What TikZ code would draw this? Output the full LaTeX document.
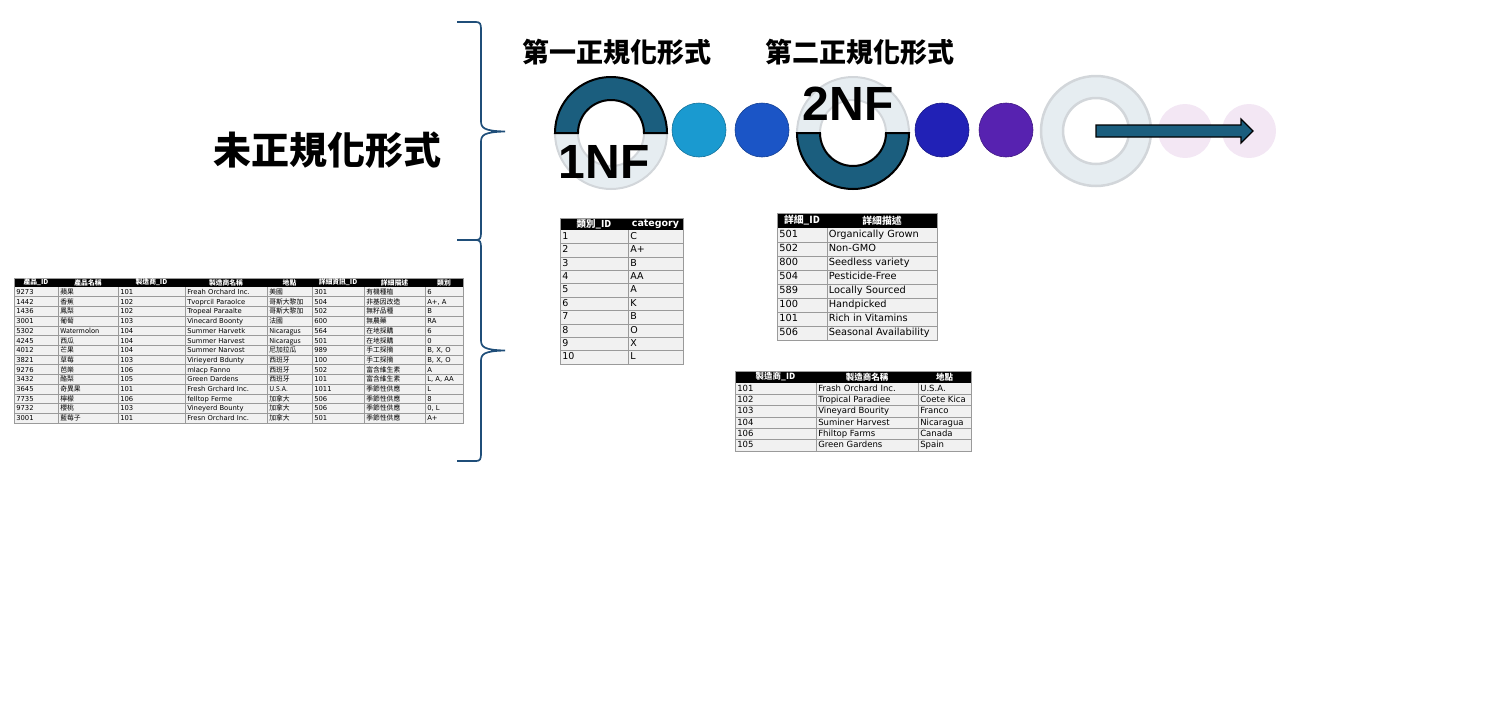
\documentclass[tikz,border=0pt]{standalone}
\usepackage{fontspec}
\setmainfont{DejaVu Sans}
\newfontfamily\cjk{Noto Sans CJK TC}
\newfontfamily\nffont{Liberation Sans}
\usetikzlibrary{calc}

\definecolor{nfteal}{HTML}{1B5E7E}
\definecolor{ringgray}{HTML}{E6EDF1}
\definecolor{ringline}{HTML}{D2D6DA}
\definecolor{braceblue}{HTML}{1F4E79}
\definecolor{dotA}{HTML}{1A9AD0}
\definecolor{dotB}{HTML}{1B55C6}
\definecolor{dotC}{HTML}{2121B6}
\definecolor{dotD}{HTML}{5722B0}
\definecolor{dotE}{HTML}{F3E7F4}
\definecolor{rowgray}{HTML}{F1F1F1}
\definecolor{gridgray}{HTML}{9A9A9A}

\begin{document}
\begin{tikzpicture}[x=1pt, y=-1pt, semithick,
  curly/.style={draw=braceblue, line width=1.7pt},
  bigtitle/.style={font=\cjk\bfseries\fontsize{38}{40}\selectfont},
  nftitle/.style={font=\cjk\bfseries\fontsize{27}{30}\selectfont},
  nflabel/.style={font=\nffont\bfseries\fontsize{48}{50}\selectfont, inner sep=0pt},
  nfdot/.style={circle, minimum size=54pt, inner sep=0pt, line width=0.6pt},
  tabgrid/.style={draw=gridgray, line width=0.5pt},
  tabhead/.style={text=white, inner sep=0pt, font=\cjk\bfseries\fontsize{#1}{#1}\selectfont},
  tabcell/.style={anchor=west, inner sep=2pt, text height=0.72em, text depth=0.2em, font=\fontsize{#1}{#1}\selectfont},
  tabcjk/.style={tabcell=#1, font=\cjk\fontsize{#1}{#1}\selectfont}]

  \useasboundingbox (0,0) rectangle (1488,715);

  % braces
  \draw[curly] (457,22) -- (476,22) .. controls (480,22) and (481,24) .. (481,29) -- (481,121)
    .. controls (481,128) and (484,131) .. (505,131.5) .. controls (484,132) and (481,135) .. (481,142)
    -- (481,233) .. controls (481,238) and (480,240) .. (476,240) -- (457,240);
  \draw[curly] (457,240) -- (476,240) .. controls (480,240) and (481,242) .. (481,247) -- (481,340)
    .. controls (481,347) and (484,350) .. (505,350.5) .. controls (484,351) and (481,354) .. (481,361)
    -- (481,454) .. controls (481,459) and (480,461) .. (476,461) -- (457,461);

  \node[bigtitle] (unnorm) at (327,150) {未正規化形式};
  \node[nftitle] (first) at (617,52) {第一正規化形式};
  \node[nftitle] (second) at (860,52) {第二正規化形式};

  % 1NF ring
  \coordinate (ring1) at (611,133);
  \filldraw[ringgray, draw=ringline, line width=2pt, even odd rule] (ring1) circle[radius=56] (ring1) circle[radius=33];
  \filldraw[nfteal, draw=black, line width=2pt] ($(ring1)+(56,0)$) arc[start angle=0, end angle=-180, radius=56]
    -- ($(ring1)+(-33,0)$) arc[start angle=180, end angle=360, radius=33] -- cycle;
  \node[nflabel] (nf1) at (604,162) {1NF};

  \node[nfdot, fill=dotA, draw=dotA!75!black] (dot1) at (699,130) {};
  \node[nfdot, fill=dotB, draw=dotB!75!black] (dot2) at (762,130) {};

  % 2NF ring
  \coordinate (ring2) at (853,133);
  \filldraw[ringgray, draw=ringline, line width=2pt, even odd rule] (ring2) circle[radius=56] (ring2) circle[radius=33];
  \filldraw[nfteal, draw=black, line width=2pt] ($(ring2)+(56,0)$) arc[start angle=0, end angle=180, radius=56]
    -- ($(ring2)+(-33,0)$) arc[start angle=180, end angle=0, radius=33] -- cycle;
  \node[nflabel] (nf2) at (848,104) {2NF};

  \node[nfdot, fill=dotC, draw=dotC!75!black] (dot3) at (942,130) {};
  \node[nfdot, fill=dotD, draw=dotD!75!black] (dot4) at (1006,130) {};

  % empty ring and arrow
  \coordinate (ring3) at (1096,131);
  \filldraw[ringgray, draw=ringline, line width=2.5pt, even odd rule] (ring3) circle[radius=55] (ring3) circle[radius=33];
  \node[nfdot, fill=dotE] (dot5) at (1185,131) {};
  \node[nfdot, fill=dotE] (dot6) at (1249,131) {};
  \filldraw[nfteal, draw=black, line width=1.2pt] ($(ring3)+(0,-6)$) -- ($(dot6)+(-8,-6)$) -- ($(dot6)+(-8,-12)$)
    -- ($(dot6)+(4,0)$) -- ($(dot6)+(-8,12)$) -- ($(dot6)+(-8,6)$) -- ($(ring3)+(0,6)$) -- cycle;

  % unnormalized table
  \fill[rowgray] (14,287) rectangle (463,423);
  \fill[black] (14,278) rectangle (463,287);
  \foreach \k in {1,...,13} \draw[tabgrid] (14,287+9.71*\k) -- (463,287+9.71*\k);
  \foreach \x in {58,118,185,267,312,364,425} \draw[tabgrid] (\x,287) -- (\x,423);
  \draw[tabgrid] (14,278) rectangle (463,423);
  \foreach \l/\r/\t [count=\c] in {14/58/產品\_ID, 58/118/產品名稱, 118/185/製造商\_ID, 185/267/製造商名稱,
      267/312/地點, 312/364/詳細資訊\_ID, 364/425/詳細描述, 425/463/類別}
    \node[tabhead=6.8] (u-h\c) at ({(\l+\r)/2},282.5) {\t};
  \foreach \colA/\colB/\colC/\colD/\colE/\colF/\colG/\colH [count=\r] in {
      9273/蘋果/101/Freah Orchard Inc./美國/301/有機種植/6,
      1442/香蕉/102/Tvoprcil Paraolce/哥斯大黎加/504/非基因改造/{A+, A},
      1436/鳳梨/102/Tropeal Paraalte/哥斯大黎加/502/無籽品種/B,
      3001/葡萄/103/Vinecard Boonty/法國/600/無農藥/RA,
      5302/Watermolon/104/Summer Harvetk/Nicaragus/564/在地採購/6,
      4245/西瓜/104/Summer Harvest/Nicaragus/501/在地採購/0,
      4012/芒果/104/Summer Narvost/尼加拉瓜/989/手工採摘/{B, X, O},
      3821/草莓/103/Virieyerd Bdunty/西班牙/100/手工採摘/{B, X, O},
      9276/芭樂/106/mlacp Fanno/西班牙/502/富含維生素/A,
      3432/酪梨/105/Green Dardens/西班牙/101/富含維生素/{L, A, AA},
      3645/奇異果/101/Fresh Grchard Inc./U.S.A./1011/季節性供應/L,
      7735/檸檬/106/feIltop Ferme/加拿大/506/季節性供應/8,
      9732/櫻桃/103/Vineyerd Bounty/加拿大/506/季節性供應/{0, L},
      3001/藍莓子/101/Fresn Orchard Inc./加拿大/501/季節性供應/A+} {
    \node[tabcell=6.8] (u-\r-1) at (14,282.15+9.71*\r) {\colA};
    \node[tabcjk=6.8] (u-\r-2) at (58,282.15+9.71*\r) {\colB};
    \node[tabcell=6.8] (u-\r-3) at (118,282.15+9.71*\r) {\colC};
    \node[tabcell=6.8] (u-\r-4) at (185,282.15+9.71*\r) {\colD};
    \node[tabcjk=6.8] (u-\r-5) at (267,282.15+9.71*\r) {\colE};
    \node[tabcell=6.8] (u-\r-6) at (312,282.15+9.71*\r) {\colF};
    \node[tabcjk=6.8] (u-\r-7) at (364,282.15+9.71*\r) {\colG};
    \node[tabcell=6.8] (u-\r-8) at (425,282.15+9.71*\r) {\colH};
  }

  % category table
  \fill[rowgray] (560,230) rectangle (683,364);
  \fill[black] (560,218) rectangle (683,230);
  \foreach \k in {1,...,9} \draw[tabgrid] (560,230+13.4*\k) -- (683,230+13.4*\k);
  \draw[tabgrid] (628,230) -- (628,364);
  \draw[tabgrid] (560,218) rectangle (683,364);
  \node[tabhead=9.5] (c-h1) at (594,224) {類別\_ID};
  \node[tabhead=9.5, font=\bfseries\fontsize{9.5}{9.5}\selectfont] (c-h2) at (655.5,224) {category};
  \foreach \colA/\colB [count=\r] in {1/C, 2/A+, 3/B, 4/AA, 5/A, 6/K, 7/B, 8/O, 9/X, 10/L} {
    \node[tabcell=9.5] (c-\r-1) at (560,223.3+13.4*\r) {\colA};
    \node[tabcell=9.5] (c-\r-2) at (628,223.3+13.4*\r) {\colB};
  }

  % detail table
  \fill[rowgray] (777,228) rectangle (937,340);
  \fill[black] (777,213) rectangle (937,228);
  \foreach \k in {1,...,7} \draw[tabgrid] (777,228+14*\k) -- (937,228+14*\k);
  \draw[tabgrid] (827,228) -- (827,340);
  \draw[tabgrid] (777,213) rectangle (937,340);
  \node[tabhead=9.8] (d-h1) at (802,220.5) {詳細\_ID};
  \node[tabhead=9.8] (d-h2) at (882,220.5) {詳細描述};
  \foreach \colA/\colB [count=\r] in {501/Organically Grown, 502/Non-GMO, 800/Seedless variety, 504/Pesticide-Free,
      589/Locally Sourced, 100/Handpicked, 101/Rich in Vitamins, 506/Seasonal Availability} {
    \node[tabcell=9.8] (d-\r-1) at (777,221+14*\r) {\colA};
    \node[tabcell=9.8, inner sep=1.5pt] (d-\r-2) at (827,221+14*\r) {\colB};
  }

  % manufacturer table
  \fill[rowgray] (735,383) rectangle (971,451);
  \fill[black] (735,371) rectangle (971,383);
  \foreach \k in {1,...,5} \draw[tabgrid] (735,383+11.33*\k) -- (971,383+11.33*\k);
  \foreach \x in {816,918} \draw[tabgrid] (\x,383) -- (\x,451);
  \draw[tabgrid] (735,371) rectangle (971,451);
  \node[tabhead=8.5] (m-h1) at (775.5,377) {製造商\_ID};
  \node[tabhead=8.5] (m-h2) at (867,377) {製造商名稱};
  \node[tabhead=8.5] (m-h3) at (944.5,377) {地點};
  \foreach \colA/\colB/\colC [count=\r] in {101/Frash Orchard Inc./U.S.A., 102/Tropical Paradiee/Coete Kica,
      103/Vineyard Bourity/Franco, 104/Suminer Harvest/Nicaragua, 106/Fhiltop Farms/Canada, 105/Green Gardens/Spain} {
    \node[tabcell=8.5] (m-\r-1) at (735,377.3+11.33*\r) {\colA};
    \node[tabcell=8.5] (m-\r-2) at (816,377.3+11.33*\r) {\colB};
    \node[tabcell=8.5] (m-\r-3) at (918,377.3+11.33*\r) {\colC};
  }
\end{tikzpicture}
\end{document}
